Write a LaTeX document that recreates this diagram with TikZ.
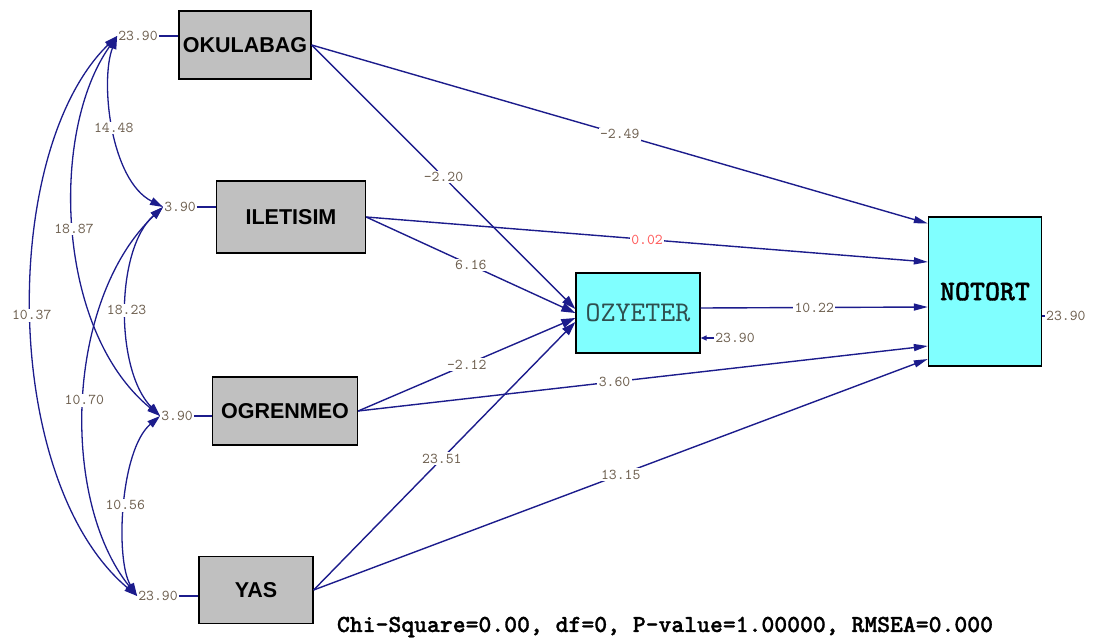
\documentclass[tikz,border=0pt]{standalone}
\usepackage{fontspec}
\setmainfont{Liberation Sans}
\newfontfamily\monof[BoldFont=lmmonolt10-bold.otf,BoldFeatures={FakeBold=1.2}]{lmmono10-regular.otf}
\usetikzlibrary{arrows.meta,calc}
\definecolor{navy}{HTML}{1C1C8C}
\definecolor{grayfill}{HTML}{C0C0C0}
\definecolor{cyanfill}{HTML}{80FFFF}
\definecolor{lblc}{HTML}{6E6050}
\definecolor{redl}{HTML}{FF5A5A}
\definecolor{ozc}{HTML}{2F4F4F}
\begin{document}
\begin{tikzpicture}[x=1pt,y=-1pt,
 obs/.style={draw=black, line width=1.3pt, rectangle, inner sep=0pt, fill=grayfill, font=\fontsize{21.5}{21.5}\selectfont\bfseries},
 endo/.style={draw=black, line width=1.3pt, rectangle, inner sep=0pt, fill=cyanfill},
 pth/.style={draw=navy, line width=1.4pt, -{Triangle[length=14pt,width=7pt]}},
 pthz/.style={draw=navy, line width=1.4pt, -{Triangle[length=14pt,width=9pt]}},
 cov/.style={draw=navy, line width=1.3pt, {Triangle[length=13pt,width=8pt]}-{Triangle[length=13pt,width=8pt]}},
 lbl/.style={fill=white, inner sep=1.5pt, text=lblc, font=\monof\fontsize{15}{15}\selectfont},
 err/.style={inner sep=1pt, text=lblc, font=\monof\fontsize{15}{15}\selectfont},
 conn/.style={draw=navy, line width=1.4pt},
 ]
\useasboundingbox (0,0) rectangle (1093,640);
% observed exogenous
\node[obs, minimum width=132pt, minimum height=68pt] (OKU) at (245,45) {OKULABAG};
\node[obs, minimum width=149pt, minimum height=72pt] (ILE) at (291,217) {ILETISIM};
\node[obs, minimum width=145pt, minimum height=68pt] (OGR) at (285,411) {OGRENMEO};
\node[obs, minimum width=114pt, minimum height=67pt] (YAS) at (256,590) {YAS};
% endogenous
\node[endo, minimum width=124pt, minimum height=80pt, text=ozc, font=\monof\fontsize{28.5}{28.5}\selectfont] (OZY) at (638,313) {OZYETER};
\node[endo, minimum width=113pt, minimum height=149pt, font=\monof\bfseries\fontsize{28.5}{28.5}\selectfont] (NOT) at (985,291.5) {NOTORT};
% variance labels
\node[err] (eO) at (138,36) {23.90};
\node[err] (eI) at (180,207) {3.90};
\node[err] (eG) at (177,416) {3.90};
\node[err] (eY) at (158,596) {23.90};
\draw[conn] (eO.east) -- (eO.east -| OKU.west);
\draw[conn] (eI.east) -- (eI.east -| ILE.west);
\draw[conn] (eG.east) -- (eG.east -| OGR.west);
\draw[conn] (eY.east) -- (eY.east -| YAS.west);
% covariances
\draw[cov] (eO.west) .. controls (100,80) and (110,180) .. (eI.west) node[lbl,pos=0.5] {14.48};
\draw[cov] (eO.west) .. controls (50,130) and (55,330) .. (eG.west) node[lbl,pos=0.5] {18.87};
\draw[cov] (eO.west) .. controls (0,150) and (0,480) .. (eY.west) node[lbl,pos=0.5] {10.37};
\draw[cov] (eI.west) .. controls (115,250) and (115,370) .. (eG.west) node[lbl,pos=0.5] {18.23};
\draw[cov] (eI.west) .. controls (65,300) and (60,500) .. (eY.west) node[lbl,pos=0.5] {10.70};
\draw[cov] (eG.west) .. controls (120,450) and (115,560) .. (eY.west) node[lbl,pos=0.5] {10.56};
% paths to NOTORT
\draw[pth] (OKU.east) -- ([yshift=68pt]NOT.west) node[lbl,pos=0.5] {-2.49};
\draw[pth] (ILE.east) -- ([yshift=29.5pt]NOT.west) node[lbl,pos=0.5,text=redl] {0.02};
\draw[pth] ([yshift=5pt]OZY.east) -- ([yshift=-15.5pt]NOT.west) node[lbl,pos=0.5] {10.22};
\draw[pth] (OGR.east) -- ([yshift=-54.5pt]NOT.west) node[lbl,pos=0.45] {3.60};
\draw[pth] (YAS.east) -- ([yshift=-67.5pt]NOT.west) node[lbl,pos=0.5] {13.15};
% paths to OZYETER
\draw[pthz] (OKU.east) -- ([yshift=4pt]OZY.west) node[lbl,pos=0.5] {-2.20};
\draw[pthz] (ILE.east) -- ([yshift=0pt]OZY.west) node[lbl,pos=0.5] {6.16};
\draw[pthz] (OGR.east) -- ([yshift=-5pt]OZY.west) node[lbl,pos=0.5] {-2.12};
\draw[pthz] (YAS.east) -- ([yshift=-9pt]OZY.west) node[lbl,pos=0.49] {23.51};
% errors of endogenous
\node[err] (eZ) at (735,338) {23.90};
\draw[draw=navy, line width=1.4pt, -{Triangle[length=6pt,width=5pt]}] (eZ.west) -- (eZ.west -| OZY.east);
\node[err, anchor=west] (eN) at (1045,316) {23.90};
\draw[conn] (eN.west) -- (eN.west -| NOT.east);
% fit statistics
\node[font=\monof\bfseries\fontsize{24.5}{24.5}\selectfont, inner sep=0pt] (fit) at (665,627) {Chi-Square=0.00, df=0, P-value=1.00000, RMSEA=0.000};
\end{tikzpicture}
\end{document}
